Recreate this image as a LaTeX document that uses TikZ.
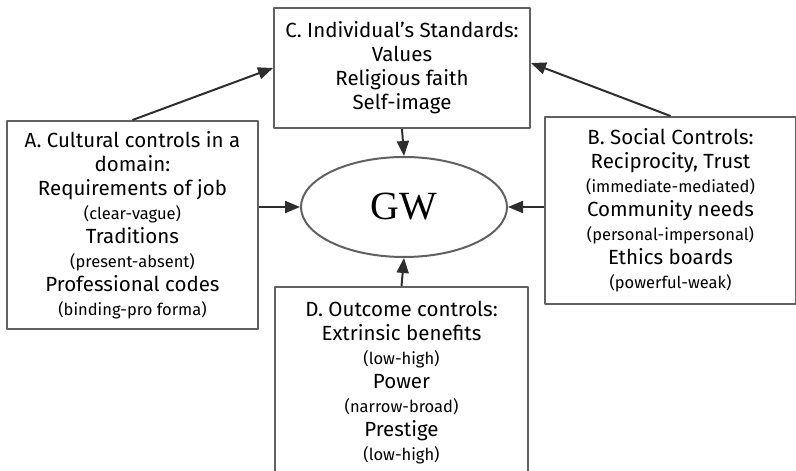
\documentclass[tikz,border=0pt]{standalone}
\usepackage{fontspec}
\setmainfont{Fira Sans}
\newfontfamily\gwfont{Liberation Serif}
\usetikzlibrary{arrows.meta,shapes.geometric}
\newcommand{\rng}[1]{{\fontsize{16.5}{18}\selectfont #1}}
\begin{document}
\begin{tikzpicture}[x=1pt,y=-1pt,line join=round,
	>={Triangle[length=15pt,width=12pt]},
	box/.style={draw=black!62,line width=2pt,align=center,inner sep=0pt,font=\fontsize{20.5}{24}\selectfont},
	link/.style={->,draw=black!82,line width=2pt}]
	\useasboundingbox (0,0) rectangle (796,471);
	\node[box,minimum width=256pt,minimum height=120pt] (C) at (402,68) {C. Individual’s Standards:\\Values\\Religious faith\\Self-image};
	\node[box,minimum width=251pt,minimum height=208pt] (A) at (132.5,225) {A. Cultural controls in a\\domain:\\Requirements of job\\\rng{(clear-vague)}\\Traditions\\\rng{(present-absent)}\\Professional codes\\\rng{(binding-pro forma)}};
	\node[box,minimum width=251pt,minimum height=187pt] (B) at (670.5,210.5) {B. Social Controls:\\Reciprocity, Trust\\\rng{(immediate-mediated)}\\Community needs\\\rng{(personal-impersonal)}\\Ethics boards\\\rng{(powerful-weak)}};
	\node[box,minimum width=253pt,minimum height=192pt] (D) at (401.5,383) {D. Outcome controls:\\Extrinsic benefits\\\rng{(low-high)}\\Power\\\rng{(narrow-broad)}\\Prestige\\\rng{(low-high)}};
	\node[ellipse,draw=black!62,line width=2pt,minimum width=206pt,minimum height=100pt,inner sep=0pt,font=\gwfont\fontsize{40}{40}\selectfont] (GW) at (404,207) {GW};
	\draw[link] (C.south) -- (GW.north);
	\draw[link] (D.north) -- (GW.south);
	\draw[link] (A.east |- GW.west) -- (GW.west);
	\draw[link] (B.west |- GW.east) -- (GW.east);
	\draw[link] (A.north) -- (C.west);
	\draw[link] (B.north) -- ([yshift=5pt]C.east);
\end{tikzpicture}
\end{document}
